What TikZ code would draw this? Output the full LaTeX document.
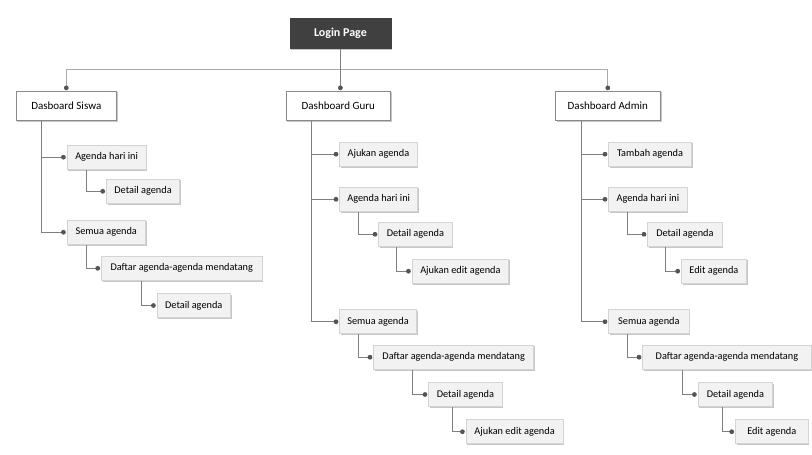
\documentclass[tikz,border=0pt]{standalone}
\usepackage{fontspec}
\setmainfont{Carlito}
\usetikzlibrary{shadows}

\definecolor{headfill}{HTML}{404040}
\definecolor{leaffill}{HTML}{F2F2F2}
\definecolor{leafedge}{HTML}{D4D4D4}
\definecolor{dashedge}{HTML}{8A8A8A}
\definecolor{stem}{HTML}{7F7F7F}
\definecolor{bus}{HTML}{AAAAAA}
\definecolor{dotc}{HTML}{555555}

\tikzset{
  boxshadow/.style={drop shadow={shadow xshift=1.3pt, shadow yshift=-1.3pt, fill=black, opacity=.22}},
  headbox/.style={draw=headfill, fill=headfill, text=white, font=\fontsize{12}{14}\selectfont\bfseries,
    minimum width=100.7pt, minimum height=30pt, inner sep=0pt, boxshadow},
  dashbox/.style={draw=dashedge, fill=white, line width=0.8pt, font=\fontsize{11}{13}\selectfont,
    minimum height=29.7pt, inner sep=0pt, boxshadow},
  leaf/.style={draw=leafedge, fill=leaffill, line width=0.8pt, font=\fontsize{10.3}{12}\selectfont,
    minimum height=24.3pt, inner sep=0pt, anchor=west, boxshadow},
  dotnode/.style={circle, fill=dotc, draw=none, minimum size=4.8pt, inner sep=0pt},
  conn/.style={draw=stem, line width=0.9pt},
  busline/.style={draw=bus, line width=1.2pt},
}

\begin{document}
\begin{tikzpicture}[x=1pt, y=-1pt]
\useasboundingbox (0,0) rectangle (812,455);

% top level
\node[headbox] (login) at (340.4,33.3) {Login Page};
\node[dashbox, minimum width=100.7pt] (siswa) at (66.3,105.8) {Dasboard Siswa};
\node[dashbox, minimum width=104.7pt] (guru)  at (338.3,105.8) {Dashboard Guru};
\node[dashbox, minimum width=105pt]   (admin) at (607.8,105.8) {Dashboard Admin};

% siswa branch
\node[leaf, minimum width=79pt]    (s1)   at (66.7,157.2)  {Agenda hari ini};
\node[leaf, minimum width=73.3pt]  (s11)  at (106,191.3)   {Detail agenda};
\node[leaf, minimum width=78.3pt]  (s2)   at (66.7,232.2)  {Semua agenda};
\node[leaf, minimum width=160.7pt] (s21)  at (101,268.3)   {Daftar agenda-agenda mendatang};
\node[leaf, minimum width=73.3pt]  (s211) at (156.7,305.5) {Detail agenda};

% guru branch
\node[leaf, minimum width=77.4pt]  (g1)    at (339.3,154.2) {Ajukan agenda};
\node[leaf, minimum width=78pt]    (g2)    at (339.3,199.3) {Agenda hari ini};
\node[leaf, minimum width=73.4pt]  (g21)   at (378.3,234.3) {Detail agenda};
\node[leaf, minimum width=96.6pt]  (g211)  at (411.7,271.2) {Ajukan edit agenda};
\node[leaf, minimum width=76.7pt]  (g3)    at (339.3,321.7) {Semua agenda};
\node[leaf, minimum width=160pt]   (g31)   at (373.3,357.2) {Daftar agenda-agenda mendatang};
\node[leaf, minimum width=73.4pt]  (g311)  at (428.3,394.5) {Detail agenda};
\node[leaf, minimum width=97pt]    (g3111) at (465.7,431.7) {Ajukan edit agenda};

% admin branch
\node[leaf, minimum width=82.7pt]  (a1)    at (608.3,154.2) {Tambah agenda};
\node[leaf, minimum width=78.4pt]  (a2)    at (608.3,199.3) {Agenda hari ini};
\node[leaf, minimum width=74.4pt]  (a21)   at (647.3,234.3) {Detail agenda};
\node[leaf, minimum width=65pt]    (a211)  at (681,271.2)   {Edit agenda};
\node[leaf, minimum width=80.4pt]  (a3)    at (608.3,321.7) {Semua agenda};
\node[leaf, minimum width=168.4pt] (a31)   at (642.3,357.2) {Daftar agenda-agenda mendatang};
\node[leaf, minimum width=74.6pt]  (a311)  at (697.7,394.5) {Detail agenda};
\node[leaf, minimum width=72.7pt]  (a3111) at (735,431.7)   {Edit agenda};

% bus from the login page to the three dashboards
\coordinate (busmid) at (login.south |- 0,69.3);
\draw[busline] (busmid) -| ([yshift=2.7pt]siswa.north) node[dotnode] {};
\draw[busline] (busmid) -| ([yshift=2.7pt]admin.north) node[dotnode] {};
\draw[conn] (login.south) -- ([yshift=2.7pt]login.south |- guru.north) node[dotnode] {};

% child connectors: a stem below the parent, then a branch ending in a dot
\newcommand{\branch}[3]{%
  \draw[conn] ([xshift=#2]#1.south west) |- ([xshift=-3.3pt]#3.west) node[dotnode] {};}

% siswa connectors
\branch{siswa}{25.7pt}{s1}
\branch{siswa}{25.7pt}{s2}
\branch{s1}{19.3pt}{s11}
\branch{s2}{19.3pt}{s21}
\branch{s21}{40.7pt}{s211}

% guru connectors
\branch{guru}{26.3pt}{g1}
\branch{guru}{26.3pt}{g2}
\branch{guru}{26.3pt}{g3}
\branch{g2}{19pt}{g21}
\branch{g21}{17.7pt}{g211}
\branch{g3}{19pt}{g31}
\branch{g31}{39.4pt}{g311}
\branch{g311}{24pt}{g3111}

% admin connectors
\branch{admin}{27pt}{a1}
\branch{admin}{27pt}{a2}
\branch{admin}{27pt}{a3}
\branch{a2}{19pt}{a21}
\branch{a21}{18pt}{a211}
\branch{a3}{19pt}{a31}
\branch{a31}{40.4pt}{a311}
\branch{a311}{25pt}{a3111}
\end{tikzpicture}
\end{document}
